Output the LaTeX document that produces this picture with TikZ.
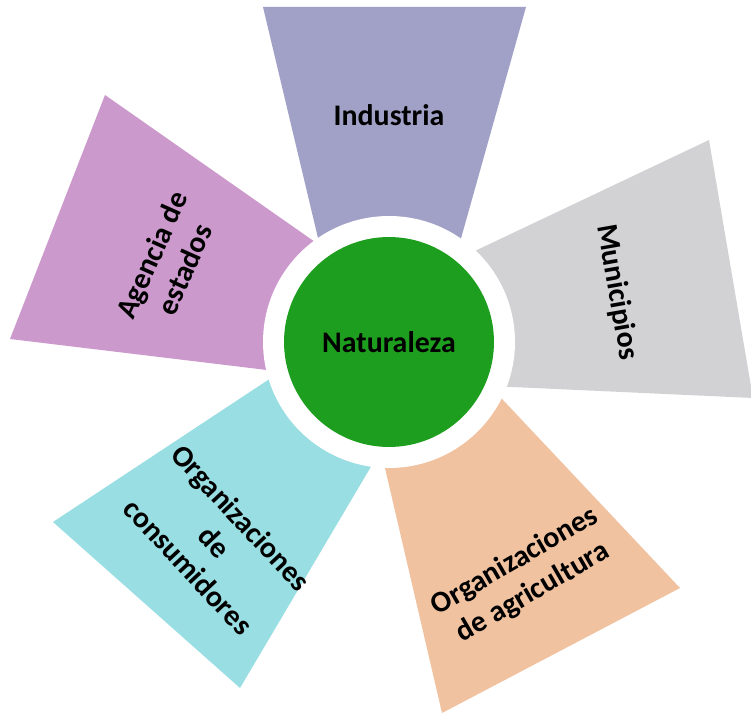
\documentclass[tikz,border=0pt]{standalone}
\usepackage{fontspec}
\setmainfont{Carlito}
\usetikzlibrary{calc}
\definecolor{indcol}{RGB}{161,161,199}
\definecolor{agecol}{RGB}{204,153,204}
\definecolor{muncol}{RGB}{210,210,212}
\definecolor{concol}{RGB}{153,222,226}
\definecolor{agrcol}{RGB}{240,194,160}
\definecolor{natcol}{RGB}{30,158,30}
% petal: fill colour, outer corner 1, outer corner 2, inner point 2, inner point 1
\newcommand\drawpetal[5]{%
  \fill[#1] (#2) -- (#3) -- ($(#3)!1.15!(#4)$) -- (c) -- ($(#2)!1.15!(#5)$) -- cycle;}
\begin{document}
\begin{tikzpicture}[x=0.02cm,y=-0.02cm,
  petaltext/.style={font=\bfseries\fontsize{17}{20.5}\selectfont, align=center,
    text=black, inner sep=0pt}]
\useasboundingbox (0,0) rectangle (751,715);
\fill[white] (0,0) rectangle (751,715);
\coordinate (c) at (389,342);

% corners of the five petals
\coordinate (ind1) at (263,7);   \coordinate (ind2) at (526,7);
\coordinate (ind3) at (460,242); \coordinate (ind4) at (318,238);
\coordinate (age1) at (105,95);  \coordinate (age2) at (10,339);
\coordinate (age3) at (267,370); \coordinate (age4) at (315,242);
\coordinate (mun1) at (709,140); \coordinate (mun2) at (753,398);
\coordinate (mun3) at (512,387); \coordinate (mun4) at (477,250);
\coordinate (con1) at (53,522);  \coordinate (con2) at (240,688);
\coordinate (con3) at (369,470); \coordinate (con4) at (268,380);
\coordinate (agr1) at (680,588); \coordinate (agr2) at (442,713);
\coordinate (agr3) at (385,468); \coordinate (agr4) at (503,400);

\drawpetal{indcol}{ind1}{ind2}{ind3}{ind4}
\drawpetal{agecol}{age1}{age2}{age3}{age4}
\drawpetal{muncol}{mun1}{mun2}{mun3}{mun4}
\drawpetal{concol}{con1}{con2}{con3}{con4}
\drawpetal{agrcol}{agr1}{agr2}{agr3}{agr4}

% white ring and central disc
\fill[white] (c) circle[radius=2.52cm];
\node[circle, fill=natcol, minimum size=4.2cm, petaltext] (nat) at (c) {Naturaleza};

% petal labels
\node[petaltext] (ind) at (389,115) {Industria};
\node[petaltext, rotate=66] (age) at (168,262) {Agencia de\\estados};
\node[petaltext, rotate=-80] (mun) at (617,292) {Municipios};
\node[petaltext, rotate=-47] (con) at (215,542) {Organizaciones\\de\\consumidores};
\node[petaltext, rotate=30] (agr) at (524,577) {Organizaciones\\de agricultura};
\end{tikzpicture}
\end{document}
